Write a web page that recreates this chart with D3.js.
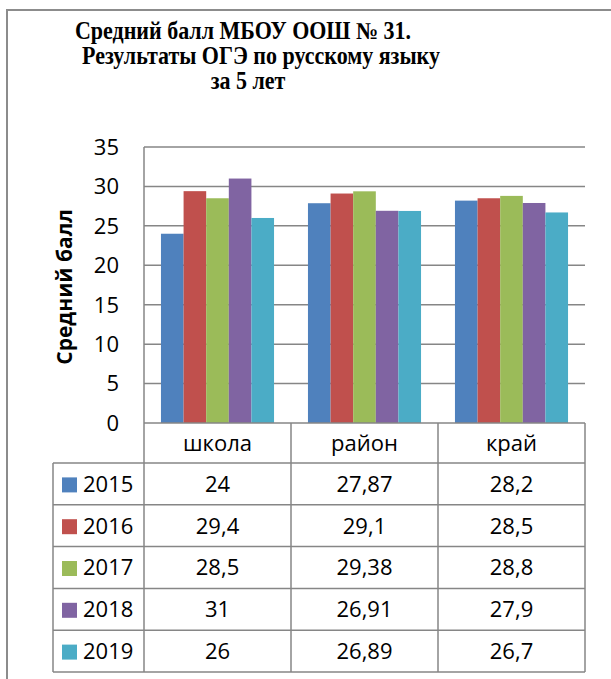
<!DOCTYPE html>
<html>
<head>
<meta charset="utf-8">
<script src="https://cdn.jsdelivr.net/npm/d3@7"></script>
<style>
  html, body { margin: 0; padding: 0; background: #fff; }
  svg { display: block; }
</style>
</head>
<body>
<div class="chart"></div>
<script>
const categories = ['школа', 'район', 'край']
const years = ['2015', '2016', '2017', '2018', '2019']
const values2015 = [24, 27.87, 28.2]
const values2016 = [29.4, 29.1, 28.5]
const values2017 = [28.5, 29.38, 28.8]
const values2018 = [31, 26.91, 27.9]
const values2019 = [26, 26.89, 26.7]
const yTicks = [0, 5, 10, 15, 20, 25, 30, 35]
const titleLines = ['Средний балл МБОУ ООШ № 31.', 'Результаты ОГЭ по русскому языку', 'за 5 лет']
const yTitle = 'Средний балл'

const series = [values2015, values2016, values2017, values2018, values2019]
const colors = ['#4F81BD', '#C0504D', '#9BBB59', '#8064A2', '#4BACC6']
const fmt = v => String(v).replace('.', ',')

const W = 611
const H = 679
const plot = { left: 144, right: 585, top: 147, bottom: 423 }
const tableLeft = 53
const headerH = 40
const rowH = 41.8
const lineColor = '#868686'

const svg = d3
  .select('.chart')
  .append('svg')
  .attr('width', W)
  .attr('height', H)

// outer frame of the chart object
svg
  .append('path')
  .attr('d', `M7,${H + 5} V10 H${W + 5}`)
  .attr('fill', 'none')
  .attr('stroke', '#8c8c8c')
  .attr('stroke-width', 2)

// title (the source glyphs are a bit stretched vertically)
const titleX = [243, 261, 248]
svg
  .selectAll('.title')
  .data(titleLines)
  .enter()
  .append('text')
  .attr('class', 'title')
  .attr('transform', (d, i) => `translate(${titleX[i]},${39 + i * 25}) scale(1,1.1)`)
  .attr('text-anchor', 'middle')
  .attr('font-family', "'Liberation Serif', 'Times New Roman', serif")
  .attr('font-weight', 'bold')
  .attr('font-size', 22)
  .text(d => d)

const y = d3.scaleLinear().domain([0, 35]).range([plot.bottom, plot.top])
const x0 = d3.scaleBand().domain(categories).range([plot.left, plot.right]).padding(0)
const x1 = d3
  .scaleBand()
  .domain(years)
  .range([0, x0.bandwidth()])
  .paddingInner(0)
  .paddingOuter(0.75)

// gridlines
svg
  .selectAll('.grid')
  .data(yTicks.filter(t => t > 0))
  .enter()
  .append('line')
  .attr('class', 'grid')
  .attr('x1', plot.left)
  .attr('x2', plot.right)
  .attr('y1', d => y(d))
  .attr('y2', d => y(d))
  .attr('stroke', lineColor)
  .attr('stroke-width', 1.5)

// bars
const groups = svg
  .selectAll('.year')
  .data(series)
  .enter()
  .append('g')
  .attr('class', 'year')
  .attr('fill', (d, i) => colors[i])

groups
  .selectAll('rect')
  .data((d, i) => d.map((v, j) => ({ v, cat: categories[j], year: years[i] })))
  .enter()
  .append('rect')
  .attr('x', d => x0(d.cat) + x1(d.year))
  .attr('width', x1.bandwidth())
  .attr('y', d => y(d.v))
  .attr('height', d => y(0) - y(d.v))

// y tick labels
svg
  .selectAll('.ytick')
  .data(yTicks)
  .enter()
  .append('text')
  .attr('class', 'ytick')
  .attr('x', 119)
  .attr('y', d => y(d))
  .attr('dy', '0.36em')
  .attr('text-anchor', 'end')
  .attr('font-family', "'Open Sans', sans-serif")
  .attr('font-size', 22)
  .attr('fill', '#000')
  .text(d => d)

// y axis title
svg
  .append('text')
  .attr('transform', `translate(72,${(plot.top + plot.bottom) / 2 + 2}) rotate(-90)`)
  .attr('text-anchor', 'middle')
  .attr('font-family', "'Open Sans', sans-serif")
  .attr('font-weight', 'bold')
  .attr('font-size', 21)
  .text(yTitle)

// data table
const tableTop = plot.bottom
const rowsTop = tableTop + headerH
const tableBottom = rowsTop + rowH * years.length
const table = svg.append('g').attr('stroke', lineColor).attr('stroke-width', 1.5)

// axis line + column separators
table
  .append('line')
  .attr('x1', plot.left).attr('x2', plot.right)
  .attr('y1', tableTop).attr('y2', tableTop)
table
  .append('line')
  .attr('x1', plot.left).attr('x2', plot.left)
  .attr('y1', plot.top).attr('y2', tableBottom)
table
  .selectAll('.colsep')
  .data(categories)
  .enter()
  .append('line')
  .attr('x1', d => x0(d) + x0.bandwidth())
  .attr('x2', d => x0(d) + x0.bandwidth())
  .attr('y1', tableTop)
  .attr('y2', tableBottom)
table
  .append('line')
  .attr('x1', tableLeft).attr('x2', tableLeft)
  .attr('y1', rowsTop).attr('y2', tableBottom)
table
  .selectAll('.rowsep')
  .data(d3.range(years.length + 1))
  .enter()
  .append('line')
  .attr('x1', tableLeft)
  .attr('x2', plot.right)
  .attr('y1', i => rowsTop + i * rowH)
  .attr('y2', i => rowsTop + i * rowH)

// category header
svg
  .selectAll('.cat')
  .data(categories)
  .enter()
  .append('text')
  .attr('class', 'cat')
  .attr('x', d => x0(d) + x0.bandwidth() / 2)
  .attr('y', tableTop + headerH / 2)
  .attr('dy', '0.36em')
  .attr('text-anchor', 'middle')
  .attr('font-family', "'Open Sans', sans-serif")
  .attr('font-size', 22)
  .text(d => d)

// rows: legend key + values
const rows = svg
  .selectAll('.row')
  .data(series)
  .enter()
  .append('g')
  .attr('class', 'row')
  .attr('transform', (d, i) => `translate(0,${rowsTop + i * rowH + rowH / 2})`)

rows
  .append('rect')
  .attr('x', 62)
  .attr('y', -6.5)
  .attr('width', 15)
  .attr('height', 15)
  .attr('fill', (d, i) => colors[i])

rows
  .append('text')
  .attr('x', 83)
  .attr('dy', '0.36em')
  .attr('font-family', "'Open Sans', sans-serif")
  .attr('font-size', 22)
  .text((d, i) => years[i])

rows
  .selectAll('.val')
  .data(d => d)
  .enter()
  .append('text')
  .attr('class', 'val')
  .attr('x', (d, j) => x0(categories[j]) + x0.bandwidth() / 2)
  .attr('dy', '0.36em')
  .attr('text-anchor', 'middle')
  .attr('font-family', "'Open Sans', sans-serif")
  .attr('font-size', 22)
  .text(d => fmt(d))
</script>
</body>
</html>
